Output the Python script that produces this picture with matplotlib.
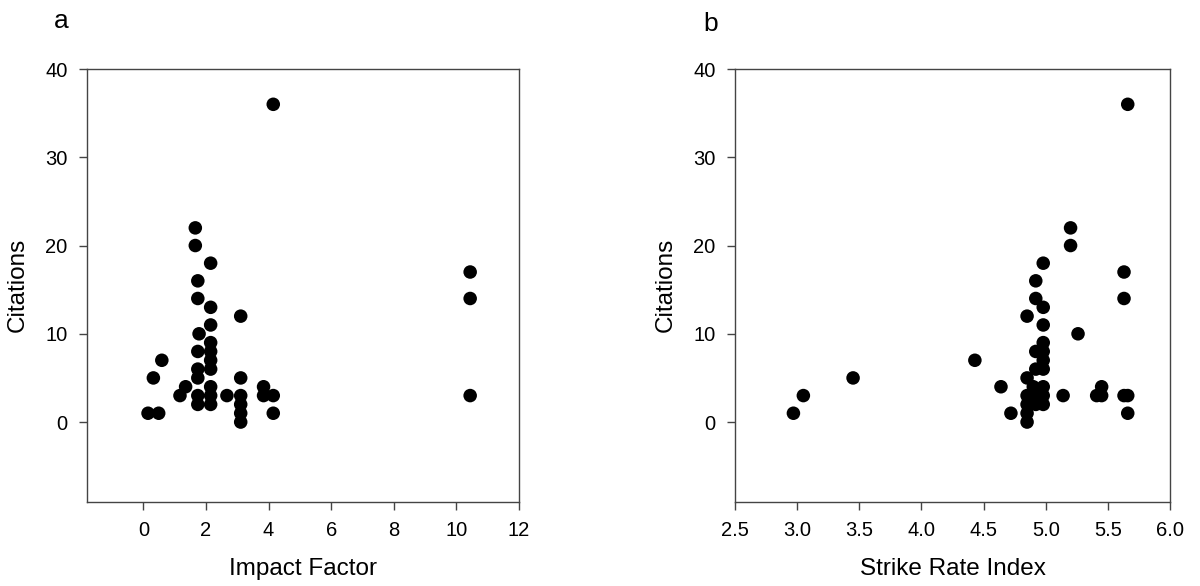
#Citations vs impact factor / strike rate index, two scatter panels

import matplotlib
matplotlib.use("Agg")
import matplotlib.pyplot as plt

plt.rcParams['font.family'] = ['Liberation Sans', 'DejaVu Sans']

#panel a data
impactFactor = [0.15, 0.49, 0.32, 0.59, 1.17, 1.35,
                1.66, 1.66, 1.74, 1.74, 1.78, 1.74, 1.74, 1.74, 1.74, 1.74,
                2.15, 2.15, 2.15, 2.15, 2.15, 2.15, 2.15, 2.15, 2.15, 2.15,
                2.67, 3.11, 3.11, 3.11, 3.11, 3.11, 3.11,
                3.84, 3.84, 4.15, 4.15, 4.15,
                10.44, 10.44, 10.44]
citationsA = [1, 1, 5, 7, 3, 4,
              22, 20, 16, 14, 10, 8, 6, 5, 3, 2,
              18, 13, 11, 9, 8, 7, 6, 4, 3, 2,
              3, 12, 5, 3, 2, 1, 0,
              4, 3, 3, 1, 36,
              17, 14, 3]

#panel b data
strikeRate = [2.97, 3.05, 3.45, 4.43, 4.64, 4.72,
              4.85, 4.85, 4.85, 4.85, 4.85, 4.85,
              4.92, 4.92, 4.92, 4.92, 4.92, 4.92, 4.90,
              4.98, 4.98, 4.98, 4.98, 4.98, 4.98, 4.98, 4.98, 4.98, 4.98,
              5.14, 5.20, 5.20, 5.26, 5.41, 5.45, 5.45,
              5.63, 5.63, 5.63, 5.66, 5.66, 5.66]
citationsB = [1, 3, 5, 7, 4, 1,
              12, 5, 3, 2, 1, 0,
              16, 14, 8, 6, 3, 2, 4,
              18, 13, 11, 9, 8, 7, 6, 4, 3, 2,
              3, 22, 20, 10, 3, 4, 3,
              17, 14, 3, 36, 3, 1]

spineCol = '#444444'

fig = plt.figure(figsize=(12, 5.86), dpi=100)
axA = fig.add_axes([87/1200, 1-501.5/586, 432/1200, 432.5/586])
axB = fig.add_axes([735/1200, 1-501.5/586, 435/1200, 432.5/586])

for ax, x, y, xlab in [(axA, impactFactor, citationsA, 'Impact Factor'),
                       (axB, strikeRate, citationsB, 'Strike Rate Index')]:
    ax.scatter(x, y, s=95, c='black', edgecolors='none', zorder=3)
    ax.set_ylim(-9, 40)
    ax.set_yticks([0, 10, 20, 30, 40])
    ax.set_xlabel(xlab, fontsize=17.5, labelpad=13)
    ax.set_ylabel('Citations', fontsize=17.5, labelpad=12)
    ax.tick_params(direction='out', length=6, width=1, color=spineCol,
                   labelsize=14.5, pad=8, top=False, right=False)
    for s in ax.spines.values():
        s.set_color(spineCol)
        s.set_linewidth(1)

axA.set_xlim(-1.8, 12)
axA.set_xticks([0, 2, 4, 6, 8, 10, 12])
axB.set_xlim(2.5, 6.0)
axB.set_xticks([2.5, 3.0, 3.5, 4.0, 4.5, 5.0, 5.5, 6.0])
axB.set_xticklabels(['2.5', '3.0', '3.5', '4.0', '4.5', '5.0', '5.5', '6.0'])

fig.text(61/1200, 1-21/586, 'a', fontsize=19, ha='center', va='center')
fig.text(711/1200, 1-24/586, 'b', fontsize=19, ha='center', va='center')

fig.savefig('out.png', dpi=100)
